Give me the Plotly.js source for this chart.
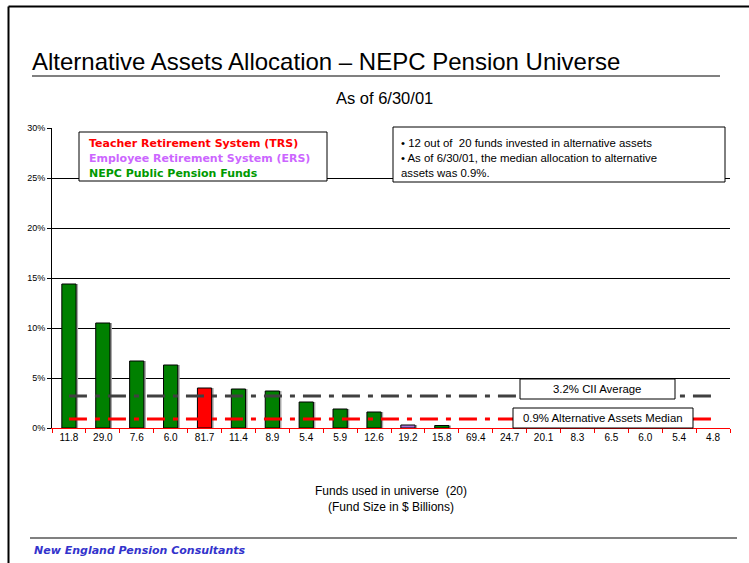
<!DOCTYPE html>
<html>
<head>
<meta charset="utf-8">
<script src="https://cdn.plot.ly/plotly-3.0.1.min.js"></script>
<style>html,body{margin:0;padding:0;background:#fff;}#chart{width:749px;height:563px;}</style>
</head>
<body>
<div id="chart"></div>
<script>
// ---- data ----
const fundSizes = ['11.8','29.0','7.6','6.0','81.7','11.4','8.9','5.4','5.9','12.6','19.2','15.8','69.4','24.7','20.1','8.3','6.5','6.0','5.4','4.8'];
const altAllocation = [14.4,10.5,6.7,6.3,4.0,3.9,3.7,2.6,1.9,1.6,0.3,0.25,0,0,0,0,0,0,0,0];
const fundGroup = ['NEPC','NEPC','NEPC','NEPC','TRS','NEPC','NEPC','NEPC','NEPC','NEPC','ERS','NEPC','NEPC','NEPC','NEPC','NEPC','NEPC','NEPC','NEPC','NEPC'];
const ciiAverage = 3.2;
const medianAllocation = 0.9;
const yTickVals = [0,5,10,15,20,25,30];
const yTickText = ['0%','5%','10%','15%','20%','25%','30%'];

// ---- layout helpers (pixel -> paper) ----
const L = 52, R = 730, T = 128, B = 428;
const px = x => (x - L) / (R - L);
const py = y => (B - y) / (B - T);

const groupColor = {NEPC:'#008000', TRS:'#FF0000', ERS:'#A875D6'};
const idx = fundSizes.map((_, i) => i);
const barW = 0.42;
const shadowShift = 2 / (R - L) * 20; // 2px in axis units

const traces = [];
// shadows
{
  const xs = [], ys = [];
  idx.forEach(i => { if (altAllocation[i] > 0) { xs.push(i); ys.push(altAllocation[i]); } });
  traces.push({type:'bar', x:xs, y:ys, width:barW, offset:-barW/2 + shadowShift, marker:{color:'#A6A6A6', line:{width:0}}, showlegend:false, hoverinfo:'skip'});
}
['NEPC','TRS','ERS'].forEach(g => {
  const xs = [], ys = [];
  idx.forEach(i => { if (fundGroup[i] === g && altAllocation[i] > 0) { xs.push(i); ys.push(altAllocation[i]); } });
  traces.push({type:'bar', x:xs, y:ys, width:barW, offset:-barW/2, marker:{color:groupColor[g], line:{color:'#000', width:1}}, showlegend:false, hoverinfo:'skip'});
});
const first = idx[0], last = idx[idx.length-1];
traces.push({type:'scatter', mode:'lines', x:[first,last], y:[ciiAverage,ciiAverage], line:{color:'#404040', width:3, dash:'18px,8px,5px,8px'}, showlegend:false, hoverinfo:'skip'});
traces.push({type:'scatter', mode:'lines', x:[first,last], y:[medianAllocation,medianAllocation], line:{color:'#FF0000', width:3, dash:'18px,8px,5px,8px'}, showlegend:false, hoverinfo:'skip'});

const fBox = 'Liberation Sans, Arial, sans-serif';
const fBold = 'DejaVu Sans, Verdana, sans-serif';

function rect(x0,y0,x1,y1){
  return {type:'rect', xref:'paper', yref:'paper', x0:px(x0), x1:px(x1), y0:py(y1), y1:py(y0), fillcolor:'#fff', line:{color:'#000', width:1}, layer:'above'};
}
function hline(x0,x1,y,color,w){
  return {type:'line', xref:'paper', yref:'paper', x0:px(x0), x1:px(x1), y0:py(y), y1:py(y), line:{color:color, width:w}, layer:'above'};
}
function vline(x,y0,y1,color,w){
  return {type:'line', xref:'paper', yref:'paper', x0:px(x), x1:px(x), y0:py(y0), y1:py(y1), line:{color:color, width:w}, layer:'above'};
}
function txt(x,y,text,opt){
  return Object.assign({xref:'paper', yref:'paper', x:px(x), y:py(y), text:text, showarrow:false, xanchor:'left', yanchor:'middle', font:{family:fBox, size:11.4, color:'#000'}}, opt||{});
}

const layout = {
  width:749, height:563,
  margin:{l:L, r:749-R, t:T, b:563-B, pad:0},
  paper_bgcolor:'#fff', plot_bgcolor:'#fff',
  title:{text:'Alternative Assets Allocation – NEPC Pension Universe', x:32/749, xanchor:'left', y:1-62/563, yanchor:'middle', font:{family:fBox, size:24, color:'#000'}},
  barmode:'overlay',
  xaxis:{
    range:[-0.5, 19.5], tickmode:'array', tickvals:idx, ticktext:fundSizes, ticks:'',
    showline:true, linecolor:'#FF0000', linewidth:1, showgrid:false, zeroline:false,
    tickfont:{family:fBox, size:10, color:'#000'},
    minor:{tickmode:'linear', tick0:-0.5, dtick:1, ticks:'outside', ticklen:4, tickcolor:'#FF0000', tickwidth:1, showgrid:false},
    title:{text:'Funds used in universe  (20)<br>(Fund Size in $ Billions)', font:{family:fBox, size:12, color:'#000'}, standoff:44},
    fixedrange:true
  },
  yaxis:{
    range:[0,30], tickmode:'array', tickvals:yTickVals, ticktext:yTickText,
    showgrid:true, gridcolor:'#000', gridwidth:1, zeroline:false,
    showline:true, linecolor:'#000', linewidth:1, ticks:'outside', ticklen:4, tickcolor:'#000',
    tickfont:{family:fBox, size:9, color:'#000'}, fixedrange:true
  },
  shapes:[
    vline(8.5, 6.5, 563, '#000', 2),
    hline(8.5, 749, 6.5, '#000', 2),
    hline(32, 720, 76, '#808080', 2),
    hline(30, 737, 538, '#808080', 2),
    rect(79,132,327,181),
    rect(393,127,725,182),
    rect(520,379,675,399),
    rect(513,408,693,428)
  ],
  annotations:[
    txt(384, 98, 'As of 6/30/01', {xanchor:'center', font:{family:fBox, size:16.5, color:'#000'}}),
    txt(87, 143, '<b>Teacher Retirement System (TRS)</b>', {font:{family:fBold, size:11, color:'#FF0000'}}),
    txt(87, 158, '<b>Employee Retirement System (ERS)</b>', {font:{family:fBold, size:11, color:'#CC66FF'}}),
    txt(87, 173, '<b>NEPC Public Pension Funds</b>', {font:{family:fBold, size:11, color:'#009900'}}),
    txt(399, 143, '• 12 out of  20 funds invested in alternative assets'),
    txt(399, 158, '• As of 6/30/01, the median allocation to alternative'),
    txt(399, 173, 'assets was 0.9%.'),
    txt(597, 389, '3.2% CII Average', {xanchor:'center'}),
    txt(603, 418, '0.9% Alternative Assets Median', {xanchor:'center'}),
    txt(32, 550, '<b><i>New England Pension Consultants</i></b>', {font:{family:fBold, size:11, color:'#3333CC'}})
  ]
};

Plotly.newPlot('chart', traces, layout, {displayModeBar:false, staticPlot:true});
</script>
</body>
</html>
